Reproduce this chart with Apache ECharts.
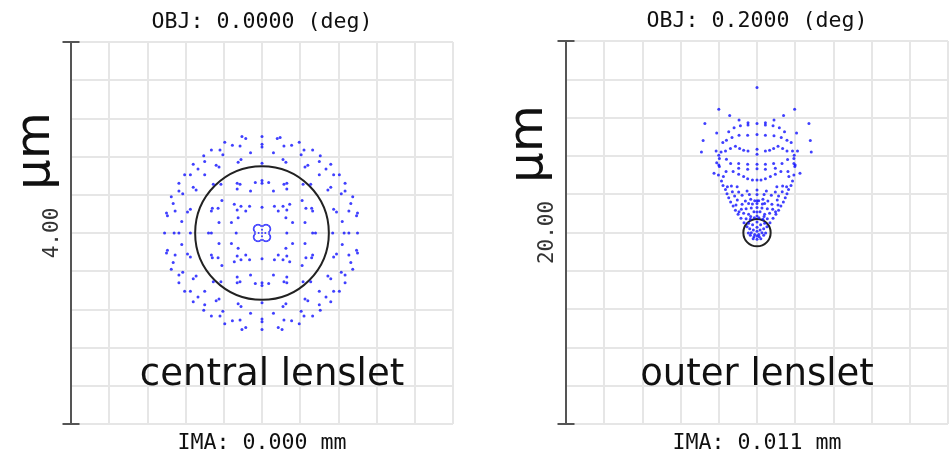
<!DOCTYPE html>
<html>
<head>
<meta charset="utf-8">
<script src="https://cdn.jsdelivr.net/npm/echarts@6/dist/echarts.min.js"></script>
<style>
  html, body { margin: 0; padding: 0; background: #fff; }
  #chart { width: 951px; height: 454px; }
</style>
</head>
<body>
<div id="chart"></div>
<script>
// Spot diagram values, micrometres relative to the chief ray.

// Central lenslet, on-axis field (full scale 4.00 um)
const centralUpperLeft = [[-0.21,1.01],[-0.17,0.99],[-0.39,0.95],[-0.31,0.92],[-0.23,0.91],[-0.12,0.84],[-0.53,0.87],[-0.44,0.87],[-0.41,0.82],[-0.61,0.81],[-0.60,0.75],[-0.72,0.72],[-0.22,0.77],[-0.25,0.74],[-0.48,0.71],[-0.45,0.69],[-0.67,0.67],[-0.81,0.61],[-0.75,0.61],[-0.60,0.61],[-0.87,0.52],[-0.72,0.48],[-0.69,0.45],[-0.51,0.51],[-0.43,0.51],[-0.26,0.52],[-0.23,0.51],[-0.26,0.46],[-0.12,0.44],[-0.07,0.53],[-0.83,0.41],[-0.87,0.44],[-0.95,0.38],[-0.93,0.31],[-0.75,0.25],[-0.78,0.22],[-0.91,0.23],[-1.00,0.21],[-0.99,0.18],[-0.84,0.12],[-0.52,0.26],[-0.53,0.23],[-0.46,0.26],[-0.42,0.34],[-0.29,0.30],[-0.26,0.24],[-0.22,0.28],[-0.17,0.23],[-0.13,0.28],[-0.25,0.16],[-0.32,0.11],[-0.45,0.11]];
const centralUpperRight = [[0.19,1.00],[0.16,0.99],[0.39,0.95],[0.31,0.92],[0.23,0.91],[0.12,0.84],[0.53,0.87],[0.44,0.87],[0.41,0.82],[0.61,0.81],[0.60,0.75],[0.72,0.72],[0.22,0.77],[0.25,0.74],[0.48,0.71],[0.45,0.69],[0.67,0.67],[0.81,0.61],[0.75,0.61],[0.60,0.61],[0.87,0.52],[0.72,0.48],[0.69,0.45],[0.51,0.51],[0.43,0.51],[0.26,0.52],[0.23,0.51],[0.26,0.46],[0.12,0.44],[0.07,0.53],[0.83,0.41],[0.87,0.44],[0.95,0.38],[0.93,0.31],[0.75,0.25],[0.78,0.22],[0.91,0.23],[1.00,0.21],[0.99,0.18],[0.84,0.12],[0.52,0.26],[0.53,0.23],[0.46,0.26],[0.42,0.34],[0.29,0.30],[0.26,0.24],[0.22,0.28],[0.17,0.23],[0.13,0.28],[0.25,0.16],[0.32,0.11],[0.45,0.11]];
const centralLowerLeft = [[-0.21,-1.01],[-0.17,-0.99],[-0.39,-0.95],[-0.31,-0.92],[-0.23,-0.91],[-0.12,-0.84],[-0.53,-0.87],[-0.44,-0.87],[-0.41,-0.82],[-0.61,-0.81],[-0.60,-0.75],[-0.72,-0.72],[-0.22,-0.77],[-0.25,-0.74],[-0.48,-0.71],[-0.45,-0.69],[-0.67,-0.67],[-0.81,-0.61],[-0.75,-0.61],[-0.60,-0.61],[-0.87,-0.52],[-0.72,-0.48],[-0.69,-0.45],[-0.51,-0.51],[-0.43,-0.51],[-0.26,-0.52],[-0.23,-0.51],[-0.26,-0.46],[-0.12,-0.44],[-0.07,-0.53],[-0.83,-0.41],[-0.87,-0.44],[-0.95,-0.38],[-0.93,-0.31],[-0.75,-0.25],[-0.78,-0.22],[-0.91,-0.23],[-1.00,-0.21],[-0.99,-0.18],[-0.84,-0.12],[-0.52,-0.26],[-0.53,-0.23],[-0.46,-0.26],[-0.42,-0.34],[-0.29,-0.30],[-0.26,-0.24],[-0.22,-0.28],[-0.17,-0.23],[-0.13,-0.28],[-0.25,-0.16],[-0.32,-0.11],[-0.45,-0.11]];
const centralLowerRight = [[0.21,-1.01],[0.17,-0.99],[0.39,-0.95],[0.31,-0.92],[0.23,-0.91],[0.12,-0.84],[0.53,-0.87],[0.44,-0.87],[0.41,-0.82],[0.61,-0.81],[0.60,-0.75],[0.72,-0.72],[0.22,-0.77],[0.25,-0.74],[0.48,-0.71],[0.45,-0.69],[0.67,-0.67],[0.81,-0.61],[0.75,-0.61],[0.60,-0.61],[0.87,-0.52],[0.72,-0.48],[0.69,-0.45],[0.51,-0.51],[0.43,-0.51],[0.26,-0.52],[0.23,-0.51],[0.26,-0.46],[0.12,-0.44],[0.07,-0.53],[0.83,-0.41],[0.87,-0.44],[0.95,-0.38],[0.93,-0.31],[0.75,-0.25],[0.78,-0.22],[0.91,-0.23],[1.00,-0.21],[0.99,-0.18],[0.84,-0.12],[0.52,-0.26],[0.53,-0.23],[0.46,-0.26],[0.42,-0.34],[0.29,-0.30],[0.26,-0.24],[0.22,-0.28],[0.17,-0.23],[0.13,-0.28],[0.25,-0.16],[0.32,-0.11],[0.45,-0.11]];
const centralAxes = [[0,1.01],[0,0.93],[0,0.90],[0,0.73],[0,0.55],[0,0.52],[0,0.27],[0,-1.01],[0,-0.93],[0,-0.90],[0,-0.73],[0,-0.55],[0,-0.52],[0,-0.27],[-1.02,0],[-0.92,0],[-0.87,0],[-0.75,0],[-0.56,0],[-0.53,0],[-0.27,0],[1.00,0],[0.91,0],[0.86,0],[0.74,0],[0.56,0],[0.53,0],[0.26,0]];
const centralCore = [[0.074,0.010],[0.084,0.025],[0.087,0.042],[0.084,0.059],[0.074,0.074],[0.059,0.084],[0.042,0.087],[0.025,0.084],[0.010,0.074],[-0.074,0.010],[-0.084,0.025],[-0.087,0.042],[-0.084,0.059],[-0.074,0.074],[-0.059,0.084],[-0.042,0.087],[-0.025,0.084],[-0.010,0.074],[0.074,-0.010],[0.084,-0.025],[0.087,-0.042],[0.084,-0.059],[0.074,-0.074],[0.059,-0.084],[0.042,-0.087],[0.025,-0.084],[0.010,-0.074],[-0.074,-0.010],[-0.084,-0.025],[-0.087,-0.042],[-0.084,-0.059],[-0.074,-0.074],[-0.059,-0.084],[-0.042,-0.087],[-0.025,-0.084],[-0.010,-0.074],[0,0],[0.035,0],[-0.035,0],[0,0.035],[0,-0.035]];

// Outer lenslet, 0.2 deg field (full scale 20.00 um)
const outerUpper = [[0,7.57],[-2.00,6.44],[1.97,6.44],[-1.43,6.11],[1.39,6.11],[-2.73,5.69],[2.72,5.69],[-0.94,5.87],[0.89,5.87],[-0.47,5.73],[-0.47,5.62],[0,5.69],[0.44,5.73],[0.44,5.62],[-0.87,5.57],[0.84,5.57],[-1.20,5.47],[1.17,5.47],[-1.48,5.26],[1.44,5.26],[-2.11,5.20],[2.07,5.20],[-0.94,5.08],[-0.49,5.08],[0,5.12],[0.44,5.08],[0.89,5.05],[-1.31,4.96],[1.27,4.96],[-1.60,4.82],[1.57,4.82],[-1.79,4.70],[1.79,4.70],[-2.82,4.80],[2.79,4.80],[-1.13,4.51],[1.10,4.51],[-1.39,4.39],[-0.91,4.39],[0.87,4.39],[1.34,4.39],[-0.70,4.30],[0.66,4.30],[-0.47,4.26],[0.44,4.26],[0,4.35],[-2.91,4.21],[2.84,4.21],[-2.14,4.26],[-1.88,4.21],[-1.65,4.26],[1.57,4.26],[1.86,4.26],[2.12,4.26],[0,4.09],[-2.00,4.04],[1.95,4.04],[-1.97,3.86],[1.93,3.86],[-1.60,3.83],[1.60,3.81],[-2.11,3.64],[-2.00,3.52],[1.93,3.60],[2.00,3.52],[-1.38,3.60],[-0.96,3.60],[-0.49,3.57],[0,3.57],[0.44,3.57],[0.87,3.60],[1.31,3.60]];
const outerMiddle = [[-1.62,3.18],[-1.25,3.18],[1.25,3.18],[1.62,3.18],[-0.96,3.35],[-0.49,3.30],[0,3.33],[0.44,3.30],[0.96,3.35],[-1.97,3.44],[1.98,3.44],[-2.25,3.09],[2.25,3.09],[-2.02,3.00],[-1.76,2.92],[1.93,3.00],[1.67,2.92],[-0.96,3.04],[-0.70,2.92],[-0.49,2.81],[-0.24,2.74],[0,2.74],[0.21,2.74],[0.44,2.81],[0.70,2.92],[0.96,3.04],[-1.55,2.39],[1.55,2.39],[-1.34,2.43],[1.34,2.43],[-1.04,2.39],[1.04,2.39]];
const outerEdge = [[-1.86,2.69],[-1.78,2.46],[-1.65,2.25],[-1.57,2.03],[-1.48,1.82],[-1.38,1.59],[-1.25,1.38],[-1.13,1.16],[-0.99,0.95],[-0.84,0.74],[-0.68,0.51],[-0.52,0.30],[1.86,2.69],[1.78,2.46],[1.65,2.25],[1.57,2.03],[1.48,1.82],[1.38,1.59],[1.25,1.38],[1.13,1.16],[0.99,0.95],[0.84,0.74],[0.68,0.51],[0.52,0.30]];
const outerLower = [[-1.29,2.13],[-0.96,2.11],[-0.52,2.17],[0,2.22],[0.49,2.17],[0.96,2.11],[1.32,2.13],[-1.17,1.91],[-0.78,1.94],[-0.40,1.98],[0,1.99],[0.37,1.98],[0.75,1.94],[1.13,1.91],[-1.03,1.70],[-0.61,1.64],[-0.33,1.73],[-0.12,1.66],[0,1.66],[0.09,1.66],[0.31,1.73],[0.57,1.64],[1.06,1.70],[-1.10,1.44],[-0.78,1.47],[-0.44,1.52],[-0.24,1.49],[0,1.52],[0.28,1.49],[0.40,1.52],[0.78,1.47],[1.10,1.44],[-0.82,1.21],[-0.57,1.24],[-0.30,1.28],[0,1.31],[0.26,1.28],[0.54,1.24],[0.82,1.21],[-0.94,1.09],[-0.70,1.00],[-0.44,0.95],[-0.16,1.09],[0,1.07],[0.16,1.09],[0.40,0.95],[0.66,1.00],[0.97,1.09],[-0.57,0.72],[-0.33,0.83],[-0.35,0.69],[-0.14,0.77],[0,0.86],[0.10,0.77],[0.31,0.69],[0.37,0.83],[0.54,0.72],[-0.44,0.48],[-0.23,0.41],[0,0.55],[0.19,0.41],[0.40,0.48],[-0.38,0.20],[-0.19,0.13],[0,0.27],[0.16,0.13],[0.35,0.20],[-0.45,-0.02],[-0.30,-0.01],[-0.12,-0.10],[0,0.06],[0.09,-0.10],[0.26,-0.01],[0.45,-0.02],[-0.35,-0.15],[-0.16,-0.22],[0,-0.18],[0.12,-0.22],[0.35,-0.15],[0,-0.35],[-0.20,-0.32],[0.20,-0.32]];

// Airy disk: [x, y, radius] in um
const centralAiry = [[0, 0, 0.70]];
const outerAiry = [[0, -0.01, 0.715]];

// Panel texts
const fieldTitles = ['OBJ: 0.0000 (deg)', 'OBJ: 0.2000 (deg)'];
const imageHeights = ['IMA: 0.000 mm', 'IMA: 0.011 mm'];
const scaleLabels = ['4.00', '20.00'];
const panelNames = ['central lenslet', 'outer lenslet'];
const scaleRanges = [[-2, 2, 0.4], [-10, 10, 2]];

const DOT = '#1010ff';
const MONO = '"DejaVu Sans Mono", monospace';
const SANS = '"DejaVu Sans", sans-serif';

const grids = [
  { left: 71, top: 42, width: 382, height: 382 },
  { left: 566, top: 41, width: 382, height: 383 }
];

function xAx(i) {
  return {
    type: 'value', gridIndex: i,
    min: scaleRanges[i][0], max: scaleRanges[i][1], interval: scaleRanges[i][2],
    axisLine: { show: false }, axisTick: { show: false }, axisLabel: { show: false },
    splitLine: { show: true, lineStyle: { color: '#e6e6e6', width: 2 } }
  };
}
function yAx(i) {
  return {
    type: 'value', gridIndex: i,
    min: scaleRanges[i][0], max: scaleRanges[i][1], interval: scaleRanges[i][2],
    name: scaleLabels[i], nameLocation: 'middle', nameRotate: 90, nameGap: 8,
    nameTextStyle: { fontFamily: MONO, fontSize: 21, color: '#333' },
    axisLine: { show: true, onZero: false, lineStyle: { color: '#555', width: 2 },
      symbol: ['rect', 'rect'], symbolSize: [17, 2] },
    axisTick: { show: false }, axisLabel: { show: false },
    splitLine: { show: true, lineStyle: { color: '#e6e6e6', width: 2 } }
  };
}
function dots(i, data, size) {
  return {
    type: 'scatter', xAxisIndex: i, yAxisIndex: i, data: data,
    symbol: 'circle', symbolSize: size, silent: true,
    itemStyle: { color: DOT }
  };
}
function airy(i, data) {
  return {
    type: 'custom', xAxisIndex: i, yAxisIndex: i, data: data, silent: true,
    renderItem: function (params, api) {
      const c = api.coord([api.value(0), api.value(1)]);
      const r = api.size([api.value(2), 0])[0];
      return { type: 'circle', shape: { cx: c[0], cy: c[1], r: r },
        style: { fill: 'none', stroke: '#222', lineWidth: 2 } };
    }
  };
}
function txt(s, x, y, font, size, rot) {
  return { type: 'text', x: x, y: y, z: 100, rotation: rot || 0,
    style: { text: s, fontFamily: font, fontSize: size, fill: '#111',
      align: 'center', verticalAlign: 'middle' } };
}

const chart = echarts.init(document.getElementById('chart'));
chart.setOption({
  animation: false,
  backgroundColor: '#fff',
  grid: grids,
  xAxis: [xAx(0), xAx(1)],
  yAxis: [yAx(0), yAx(1)],
  series: [
    dots(0, centralUpperLeft.concat(centralUpperRight, centralLowerLeft, centralLowerRight, centralAxes), 3),
    dots(0, centralCore, 2),
    airy(0, centralAiry),
    dots(1, outerUpper.concat(outerMiddle, outerEdge, outerLower), 3),
    airy(1, outerAiry)
  ],
  graphic: [
    txt(fieldTitles[0], 262, 22, MONO, 21.6),
    txt(fieldTitles[1], 757, 21, MONO, 21.6),
    txt(imageHeights[0], 262, 443, MONO, 21.6),
    txt(imageHeights[1], 757, 443, MONO, 21.6),
    txt('\u03bcm', 37, 151, SANS, 48, Math.PI / 2),
    txt('\u03bcm', 530, 144, SANS, 48, Math.PI / 2),
    txt(panelNames[0], 272, 375, SANS, 37),
    txt(panelNames[1], 757, 375, SANS, 37)
  ]
});
</script>
</body>
</html>
